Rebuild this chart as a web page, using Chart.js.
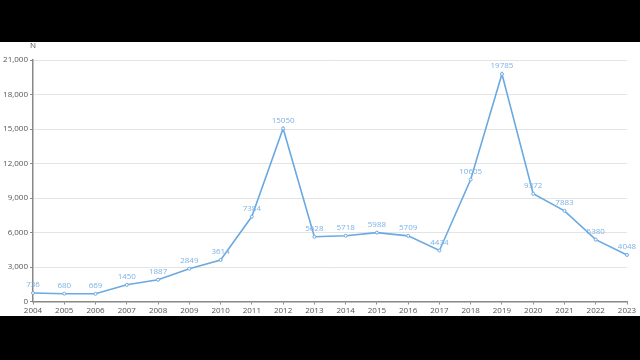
<!DOCTYPE html>
<html>
<head>
<meta charset="utf-8">
<script src="https://cdn.jsdelivr.net/npm/chart.js@4"></script>
<style>
    html, body { margin: 0; padding: 0; background: #000; }
    #wrap { position: absolute; left: 0; top: 42px; width: 640px; height: 274px; background: #fff; }
</style>
</head>
<body>
<div id="wrap"><canvas id="chart" width="640" height="274"></canvas></div>
<script>
const years = ["2004", "2005", "2006", "2007", "2008", "2009", "2010", "2011", "2012", "2013",
    "2014", "2015", "2016", "2017", "2018", "2019", "2020", "2021", "2022", "2023"];
const counts = [736, 680, 669, 1450, 1887, 2849, 3614, 7384, 15050, 5628,
    5718, 5988, 5709, 4434, 10605, 19785, 9372, 7883, 5380, 4048];
const yTicks = [0, 3000, 6000, 9000, 12000, 15000, 18000, 21000];
const yUnit = "N";

var lineColor = "#6aa9e2";
var labelColor = "#7db2e6";
var axisText = "#555";
var fontName = "'Open Sans', 'Noto Sans', sans-serif";

// value labels above each point + the "N" unit on top of the y axis
const valueLabels = {
    id: "valueLabels",
    afterDatasetsDraw(chart) {
        const ctx = chart.ctx;
        const meta = chart.getDatasetMeta(0);
        ctx.save();
        ctx.font = "8px " + fontName;
        ctx.fillStyle = labelColor;
        ctx.textAlign = "center";
        ctx.textBaseline = "bottom";
        meta.data.forEach((pt, i) => {
            ctx.fillText(String(counts[i]), pt.x, pt.y - 4);
        });
        ctx.fillStyle = axisText;
        ctx.textBaseline = "middle";
        ctx.fillText(yUnit, chart.chartArea.left, 4);
        ctx.restore();
    }
};

new Chart(document.getElementById("chart"), {
    type: "line",
    data: {
        labels: years,
        datasets: [{
            data: counts,
            borderColor: lineColor,
            borderWidth: 1.6,
            pointRadius: 1.5,
            pointBackgroundColor: "#fff",
            pointBorderColor: lineColor,
            pointBorderWidth: 1,
            tension: 0
        }]
    },
    options: {
        responsive: false,
        animation: false,
        layout: { padding: { top: 18, right: 13, left: 0, bottom: 0 } },
        plugins: {
            legend: { display: false },
            tooltip: { enabled: false }
        },
        scales: {
            x: {
                offset: false,
                grid: { drawOnChartArea: false, drawTicks: true, tickLength: 3, tickColor: "#888" },
                border: { color: "#888", width: 1.5 },
                ticks: { color: axisText, font: { size: 8, family: fontName }, padding: 1, maxRotation: 0, autoSkip: false },
                afterFit: (s) => { s.height = 14.5; }
            },
            y: {
                min: 0,
                max: 21000,
                afterBuildTicks: (s) => { s.ticks = yTicks.map(v => ({ value: v })); },
                grid: { color: "#e4e4e4", lineWidth: 1, drawTicks: true, tickLength: 3, tickColor: "#888" },
                border: { color: "#888", width: 1.5 },
                ticks: {
                    color: axisText,
                    font: { size: 8, family: fontName },
                    padding: 2,
                    callback: (v) => v.toLocaleString("en-US")
                },
                afterFit: (s) => { s.width = 33; }
            }
        }
    },
    plugins: [valueLabels]
});
</script>
</body>
</html>
